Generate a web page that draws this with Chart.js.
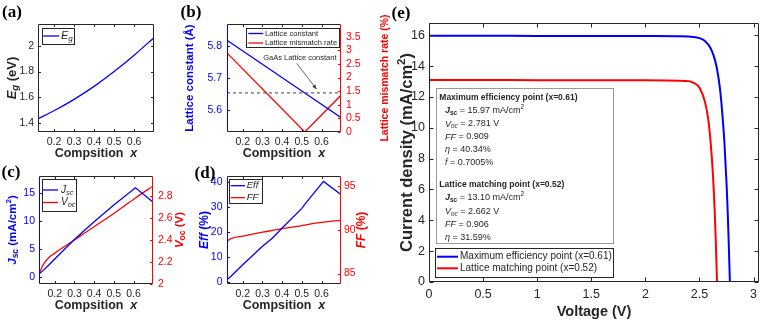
<!DOCTYPE html>
<html lang="en">
<head>
<meta charset="utf-8">
<title>Composition sweep and J-V curves</title>
<script src="https://cdn.jsdelivr.net/npm/chart.js@4.4.1/dist/chart.umd.min.js"></script>
<style>
  html, body { margin: 0; padding: 0; background: #ffffff; }
  .figura { position: relative; width: 766px; height: 325px; overflow: hidden; background: #ffffff; }
  .figura canvas { position: absolute; }
</style>
</head>
<body>
<div class="figura">
  <canvas id="graficoA" width="185" height="162" style="left:0px;top:0px"></canvas>
  <canvas id="graficoB" width="215" height="162" style="left:180px;top:0px"></canvas>
  <canvas id="graficoC" width="195" height="165" style="left:0px;top:160px"></canvas>
  <canvas id="graficoD" width="200" height="165" style="left:185px;top:160px"></canvas>
  <canvas id="graficoE" width="378" height="325" style="left:388px;top:0px"></canvas>
</div>
<script>
// ---- values ----

// (a) band gap vs composition
const compA = [0.12, 0.2, 0.3, 0.4, 0.5, 0.6, 0.7];
const egValues = [1.433, 1.495, 1.584, 1.685, 1.80, 1.927, 2.066];

// (b) lattice constant / mismatch rate
const compB = [0.12, 0.515, 0.7];
const latticeConst = [5.818, 5.6533, 5.576];
const mismatchRate = [2.91, 0, 1.36];
const gaasX = [0.12, 0.7];
const gaasConst = [5.6533, 5.6533];

// (c) Jsc and Voc
const compC = [0.12, 0.14, 0.17, 0.2, 0.3, 0.35, 0.4, 0.5, 0.61, 0.7];
const jscValues = [0.5, 1.1, 2.1, 3.2, 6.7, 8.3, 9.9, 12.9, 15.97, 13.4];
const vocValues = [2.09, 2.17, 2.24, 2.28, 2.40, 2.46, 2.52, 2.64, 2.781, 2.89];

// (d) efficiency and fill factor
const compD = [0.12, 0.14, 0.2, 0.3, 0.35, 0.4, 0.5, 0.52, 0.61, 0.7];
const effValues = [0.8, 2.2, 6.8, 14.3, 17.5, 21.6, 29.5, 31.59, 40.34, 35.0];
const ffValues = [88.7, 89.0, 89.3, 89.75, 89.95, 90.15, 90.5, 90.6, 90.9, 91.1];

// (e) J-V curves
const vMaxEff = [0, 0.5, 1, 1.5, 2, 2.3, 2.4, 2.5, 2.55, 2.6, 2.63, 2.66, 2.69, 2.71, 2.73, 2.75, 2.76, 2.77, 2.781];
const jMaxEff = [15.97, 15.97, 15.96, 15.96, 15.95, 15.94, 15.92, 15.82, 15.64, 15.2, 14.7, 13.9, 12.5, 11.0, 9.1, 6.4, 4.7, 2.6, 0];
const vLatMatch = [0, 0.5, 1, 1.5, 2, 2.2, 2.3, 2.4, 2.45, 2.5, 2.55, 2.58, 2.6, 2.62, 2.64, 2.65, 2.662];
const jLatMatch = [13.10, 13.10, 13.09, 13.09, 13.08, 13.07, 13.06, 13.03, 12.9, 12.6, 11.7, 10.6, 9.3, 7.45, 4.7, 2.8, 0];

// tick steps
const compStep = 0.1;
const voltStep = 0.5;
const currentStep = 2;

const FONT = '"Liberation Sans", Arial, Helvetica, sans-serif';
const SERIF = '"Liberation Serif", "Times New Roman", serif';
const INK = '#262626';
const BLUE = '#0000ff';
const RED = '#ff0000';

function f(size, style) { return (style ? style + ' ' : '') + size + 'px ' + FONT; }
function fmt(v) { return String(Number(Number(v).toFixed(3))); }
function pts(xs, ys) { return xs.map((x, i) => ({ x: x, y: ys[i] })); }

function serie(xs, ys, color, width, axis, smooth, dash) {
    return {
        data: pts(xs, ys),
        borderColor: color,
        borderWidth: width,
        borderDash: dash || [],
        pointRadius: 0,
        fill: false,
        yAxisID: axis,
        tension: smooth ? 0.4 : 0,
        cubicInterpolationMode: smooth ? 'monotone' : 'default'
    };
}

// text with sub/superscripts: parts = [text, font, dy]
function drawRich(ctx, parts, x, y, angle, align) {
    ctx.save();
    ctx.translate(x, y);
    if (angle) ctx.rotate(angle);
    let total = 0;
    parts.forEach(p => { ctx.font = p[1]; total += ctx.measureText(p[0]).width; });
    let cx = align === 'left' ? 0 : -total / 2;
    ctx.textAlign = 'left';
    ctx.textBaseline = 'middle';
    parts.forEach(p => {
        ctx.font = p[1];
        ctx.fillText(p[0], cx, p[2] || 0);
        cx += ctx.measureText(p[0]).width;
    });
    ctx.restore();
}

function seg(ctx, x1, y1, x2, y2, color) {
    ctx.strokeStyle = color;
    ctx.beginPath();
    ctx.moveTo(x1, y1);
    ctx.lineTo(x2, y2);
    ctx.stroke();
}

function arrow(ctx, x1, y1, x2, y2) {
    const ang = Math.atan2(y2 - y1, x2 - x1), hl = 5;
    ctx.strokeStyle = '#404040';
    ctx.fillStyle = '#404040';
    ctx.lineWidth = 0.8;
    ctx.beginPath(); ctx.moveTo(x1, y1); ctx.lineTo(x2, y2); ctx.stroke();
    ctx.beginPath();
    ctx.moveTo(x2, y2);
    ctx.lineTo(x2 - hl * Math.cos(ang - 0.4), y2 - hl * Math.sin(ang - 0.4));
    ctx.lineTo(x2 - hl * Math.cos(ang + 0.4), y2 - hl * Math.sin(ang + 0.4));
    ctx.closePath();
    ctx.fill();
}

function drawLegend(ctx, a, lg) {
    const x = Math.round(a.left + lg.x) + 0.5, y = Math.round(a.top + lg.y) + 0.5;
    ctx.save();
    ctx.fillStyle = '#ffffff';
    ctx.fillRect(x, y, Math.round(lg.w), Math.round(lg.h));
    ctx.lineWidth = 1;
    ctx.strokeStyle = lg.edge || INK;
    ctx.strokeRect(x, y, Math.round(lg.w), Math.round(lg.h));
    lg.items.forEach(it => {
        const yy = a.top + it.y;
        ctx.lineWidth = lg.lw;
        seg(ctx, a.left + lg.l1, yy, a.left + lg.l2, yy, it.color);
        ctx.fillStyle = INK;
        drawRich(ctx, it.parts, a.left + lg.tx, yy, 0, 'left');
    });
    ctx.restore();
}

// frame, inward ticks, titles, legend and panel tag (MATLAB look)
function makeDecor(cfg) {
    return {
        id: 'decor',
        afterDraw(chart) {
            const ctx = chart.ctx, a = chart.chartArea;
            const L = Math.round(a.left) + 0.5, R = Math.round(a.right) - 0.5;
            const T = Math.round(a.top) + 0.5, B = Math.round(a.bottom) - 0.5;
            const tl = cfg.tick;
            ctx.save();
            if (cfg.extra) cfg.extra(ctx, chart);
            ctx.lineWidth = 1;
            seg(ctx, L, T, R, T, INK);
            seg(ctx, L, B, R, B, INK);
            seg(ctx, L, T, L, B, cfg.y.color);
            seg(ctx, R, T, R, B, cfg.y2 ? cfg.y2.color : INK);
            const sx = chart.scales.x;
            sx.ticks.forEach(t => {
                const p = Math.round(sx.getPixelForValue(t.value)) + 0.5;
                seg(ctx, p, B, p, B - tl, INK);
                seg(ctx, p, T, p, T + tl, INK);
            });
            const sy = chart.scales.y;
            sy.ticks.forEach(t => {
                const p = Math.round(sy.getPixelForValue(t.value)) + 0.5;
                seg(ctx, L, p, L + tl, p, cfg.y.color);
                if (!cfg.y2) seg(ctx, R, p, R - tl, p, INK);
            });
            if (cfg.y2) {
                const s2 = chart.scales.y2;
                s2.ticks.forEach(t => {
                    const p = Math.round(s2.getPixelForValue(t.value)) + 0.5;
                    seg(ctx, R, p, R - tl, p, cfg.y2.color);
                });
            }
            if (cfg.legend) drawLegend(ctx, a, cfg.legend);
            cfg.titles.forEach(t => {
                ctx.fillStyle = t.color || INK;
                const cy = (a.top + a.bottom) / 2 + (t.shift || 0);
                if (t.at === 'bottom') drawRich(ctx, t.parts, (a.left + a.right) / 2, a.bottom + t.off, 0);
                else if (t.at === 'left') drawRich(ctx, t.parts, a.left - t.off, cy, -Math.PI / 2);
                else drawRich(ctx, t.parts, a.right + t.off, cy, -Math.PI / 2);
            });
            ctx.fillStyle = '#000000';
            ctx.font = 'bold 17px ' + SERIF;
            ctx.textAlign = 'center';
            ctx.textBaseline = 'middle';
            ctx.fillText(cfg.tag.text, cfg.tag.x, cfg.tag.y);
            ctx.restore();
        }
    };
}

function yScale(c, pos) {
    return {
        type: 'linear', position: pos, min: c.min, max: c.max,
        grid: { drawOnChartArea: false, drawTicks: false },
        border: { display: false },
        ticks: { stepSize: c.step, includeBounds: false, autoSkip: false, padding: c.pad, color: c.color, font: { size: c.size }, callback: fmt },
        afterFit: s => { s.width = c.w; }
    };
}

function makeChart(id, cfg) {
    const scales = {
        x: {
            type: 'linear', min: cfg.x.min, max: cfg.x.max,
            grid: { drawOnChartArea: false, drawTicks: false },
            border: { display: false },
            ticks: { stepSize: cfg.x.step, includeBounds: false, autoSkip: false, maxRotation: 0, padding: cfg.x.pad, color: INK, font: { size: cfg.x.size }, callback: fmt },
            afterFit: s => { s.height = cfg.x.h; }
        },
        y: yScale(cfg.y, 'left')
    };
    if (cfg.y2) scales.y2 = yScale(cfg.y2, 'right');
    return new Chart(document.getElementById(id), {
        type: 'line',
        data: { datasets: cfg.datasets },
        options: {
            responsive: false,
            animation: false,
            devicePixelRatio: 1,
            layout: { padding: cfg.pad },
            plugins: { legend: { display: false }, tooltip: { enabled: false } },
            scales: scales
        },
        plugins: [makeDecor(cfg)]
    });
}

document.addEventListener('DOMContentLoaded', function () {
    Chart.defaults.font.family = FONT;

    const compTitle = [['Compsition  ', f(12.5, 'bold')], ['x', f(12.5, 'bold italic')]];
    // upper limit a hair below 0.7 so no 0.7 tick is labelled (as in the figure)
    const compAxis = (h) => ({ min: 0.12, max: 0.699, step: compStep, size: 10.5, pad: 4, h: h });

    // (a)
    makeChart('graficoA', {
        pad: { left: 0, top: 24, right: 31, bottom: 0 },
        x: compAxis(30),
        y: { min: 1.33, max: 2.17, step: 0.2, size: 10.5, pad: 4, w: 38, color: INK },
        tick: 2.5,
        datasets: [serie(compA, egValues, BLUE, 1.3, 'y', true)],
        tag: { text: '(a)', x: 12, y: 13 },
        titles: [
            { at: 'bottom', off: 22, parts: compTitle },
            { at: 'left', off: 26, parts: [['E', f(13, 'bold italic')], ['g', f(9.5, 'bold italic'), 3.5], [' (eV)', f(13, 'bold')]] }
        ],
        legend: {
            x: 3.7, y: 4.3, w: 31.6, h: 16, l1: 5.3, l2: 21, tx: 23, lw: 1.3,
            items: [{ color: BLUE, y: 12, parts: [['E', f(11, 'italic')], ['g', f(8, 'italic'), 3]] }]
        }
    });

    // (b)
    makeChart('graficoB', {
        pad: { left: 0, top: 24, right: 0, bottom: 0 },
        x: compAxis(30),
        y: { min: 5.531, max: 5.869, step: 0.1, size: 10.5, pad: 5, w: 47, color: BLUE },
        y2: { min: 0, max: 3.97, step: 0.5, size: 10.5, pad: 5, w: 54, color: RED },
        tick: 2.5,
        datasets: [
            serie(gaasX, gaasConst, '#404040', 1, 'y', false, [3, 3]),
            serie(compB, latticeConst, BLUE, 1.3, 'y', false),
            serie(compB, mismatchRate, RED, 1.3, 'y2', false)
        ],
        tag: { text: '(b)', x: 11, y: 13 },
        titles: [
            { at: 'bottom', off: 22, parts: compTitle },
            { at: 'left', off: 37, color: BLUE, parts: [['Lattice constant (Å)', f(11.5, 'bold')]] },
            { at: 'right', off: 44, color: RED, parts: [['Lattice mismatch rate (%)', f(10.5, 'bold')]] }
        ],
        legend: {
            x: 18.7, y: 4.3, w: 93.3, h: 19.4, l1: 21.3, l2: 36.3, tx: 38, lw: 1.3,
            items: [
                { color: BLUE, y: 9.5, parts: [['Lattice constant', f(7.6)]] },
                { color: RED, y: 19, parts: [['Lattice mismatch rate', f(7.6)]] }
            ]
        },
        extra: function (ctx, chart) {
            const sx = chart.scales.x, sy = chart.scales.y;
            ctx.fillStyle = INK;
            ctx.font = f(7.5);
            ctx.textAlign = 'center';
            ctx.textBaseline = 'middle';
            ctx.fillText('GaAs Lattice constant', sx.getPixelForValue(0.49), sy.getPixelForValue(5.762));
            arrow(ctx, sx.getPixelForValue(0.474), sy.getPixelForValue(5.746), sx.getPixelForValue(0.575), sy.getPixelForValue(5.665));
        }
    });

    // (c)
    makeChart('graficoC', {
        pad: { left: 0, top: 16, right: 0, bottom: 0 },
        x: compAxis(41),
        y: { min: -1.3, max: 18.1, step: 5, size: 10.5, pad: 4, w: 39, color: BLUE },
        y2: { min: 2, max: 2.98, step: 0.2, size: 10.5, pad: 5, w: 42, color: RED },
        tick: 2.5,
        datasets: [
            serie(compC, jscValues, BLUE, 1.3, 'y', false),
            serie(compC, vocValues, RED, 1.3, 'y2', true)
        ],
        tag: { text: '(c)', x: 11, y: 12.5 },
        titles: [
            { at: 'bottom', off: 22, parts: compTitle },
            { at: 'left', off: 26, color: BLUE, parts: [['J', f(11.5, 'bold italic')], ['sc', f(8.5, 'bold'), 3], [' (mA/cm', f(11.5, 'bold')], ['2', f(8, 'bold'), -4], [')', f(11.5, 'bold')]] },
            { at: 'right', off: 27, color: RED, parts: [['V', f(11.5, 'bold italic')], ['oc', f(8.5, 'bold'), 3], [' (V)', f(11.5, 'bold')]] }
        ],
        legend: {
            x: 2.7, y: 3, w: 34.3, h: 32, l1: 4, l2: 19, tx: 22, lw: 1.3,
            items: [
                { color: BLUE, y: 14, parts: [['J', f(10, 'italic')], ['sc', f(7.5, 'italic'), 2.5]] },
                { color: RED, y: 26.5, parts: [['V', f(10, 'italic')], ['oc', f(7.5, 'italic'), 2.5]] }
            ]
        }
    });

    // (d)
    makeChart('graficoD', {
        pad: { left: 0, top: 16, right: 0, bottom: 0 },
        x: compAxis(41),
        y: { min: -0.9, max: 42.5, step: 10, size: 10.5, pad: 4.5, w: 42, color: BLUE },
        y2: { min: 83.8, max: 96.2, step: 5, size: 10.5, pad: 3, w: 44, color: RED },
        tick: 2.5,
        datasets: [
            serie(compD, effValues, BLUE, 1.3, 'y', false),
            serie(compD, ffValues, RED, 1.3, 'y2', true)
        ],
        tag: { text: '(d)', x: 20, y: 14 },
        titles: [
            { at: 'bottom', off: 22, parts: compTitle },
            { at: 'left', off: 22, color: BLUE, parts: [['Eff', f(12, 'bold italic')], [' (%)', f(12, 'bold')]] },
            { at: 'right', off: 21, color: RED, parts: [['FF', f(12, 'bold italic')], [' (%)', f(12, 'bold')]] }
        ],
        legend: {
            x: 2.3, y: 3, w: 33.4, h: 24.3, l1: 3.7, l2: 18, tx: 19.7, lw: 1.3,
            items: [
                { color: BLUE, y: 9.7, parts: [['Eff', f(9.5, 'italic')]] },
                { color: RED, y: 21.7, parts: [['FF', f(9.5, 'italic')]] }
            ]
        }
    });

    // (e)
    const notes = [
        { y: 74.7, x: 10.3, parts: [['Maximum efficiency point (x=0.61)', f(8.5, 'bold')]] },
        { y: 87.5, x: 16, parts: [['J', f(9, 'bold italic')], ['sc', f(6.5, 'bold'), 2.5], [' = 15.97 mA/cm', f(9)], ['2', f(6.5), -3.5]] },
        { y: 101, x: 16, parts: [['V', f(9, 'italic')], ['oc', f(6.5, 'italic'), 2.5], [' = 2.781 V', f(9)]] },
        { y: 114, x: 16, parts: [['FF', f(9, 'italic')], [' = 0.909', f(9)]] },
        { y: 126.5, x: 16, parts: [['η', f(9, 'italic')], [' = 40.34%', f(9)]] },
        { y: 139.3, x: 16, parts: [['f', f(9, 'italic')], [' = 0.7005%', f(9)]] },
        { y: 162, x: 10.3, parts: [['Lattice matching point (x=0.52)', f(8.5, 'bold')]] },
        { y: 174.8, x: 16, parts: [['J', f(9, 'bold italic')], ['sc', f(6.5, 'bold'), 2.5], [' = 13.10 mA/cm', f(9)], ['2', f(6.5), -3.5]] },
        { y: 188.5, x: 16, parts: [['V', f(9, 'italic')], ['oc', f(6.5, 'italic'), 2.5], [' = 2.662 V', f(9)]] },
        { y: 201.5, x: 16, parts: [['FF', f(9, 'italic')], [' = 0.906', f(9)]] },
        { y: 214.5, x: 16, parts: [['η', f(9, 'italic')], [' = 31.59%', f(9)]] }
    ];

    makeChart('graficoE', {
        pad: { left: 0, top: 23, right: 7, bottom: 0 },
        x: { min: 0, max: 3.05, step: voltStep, size: 12.5, pad: 5, h: 43 },
        y: { min: 0, max: 16.8, step: currentStep, size: 12.5, pad: 4, w: 41, color: INK },
        tick: 4,
        datasets: [
            serie(vMaxEff, jMaxEff, BLUE, 2, 'y', true),
            serie(vLatMatch, jLatMatch, RED, 2, 'y', true)
        ],
        tag: { text: '(e)', x: 13, y: 14 },
        titles: [
            { at: 'bottom', off: 30, parts: [['Voltage (V)', f(14.5, 'bold')]] },
            { at: 'left', off: 22, parts: [['Current density (mA/cm', f(16.5, 'bold')], ['2', f(11.5, 'bold'), -5.5], [')', f(16.5, 'bold')]] }
        ],
        legend: {
            x: 5.7, y: 224.7, w: 177.6, h: 29, l1: 8, l2: 29, tx: 31, lw: 2,
            items: [
                { color: BLUE, y: 233.7, parts: [['Maximum efficiency point (x=0.61)', f(10)]] },
                { color: RED, y: 245.3, parts: [['Lattice matching point (x=0.52)', f(10)]] }
            ]
        },
        extra: function (ctx, chart) {
            const a = chart.chartArea;
            const bx = Math.round(a.left + 6.7) + 0.5, by = Math.round(a.top + 65.3) + 0.5;
            ctx.fillStyle = '#ffffff';
            ctx.fillRect(bx, by, 177, 155);
            ctx.lineWidth = 1;
            ctx.strokeStyle = '#9a9a9a';
            ctx.strokeRect(bx, by, 177, 155);
            ctx.fillStyle = INK;
            notes.forEach(n => drawRich(ctx, n.parts, a.left + n.x, a.top + n.y, 0, 'left'));
        }
    });
});
</script>
</body>
</html>
